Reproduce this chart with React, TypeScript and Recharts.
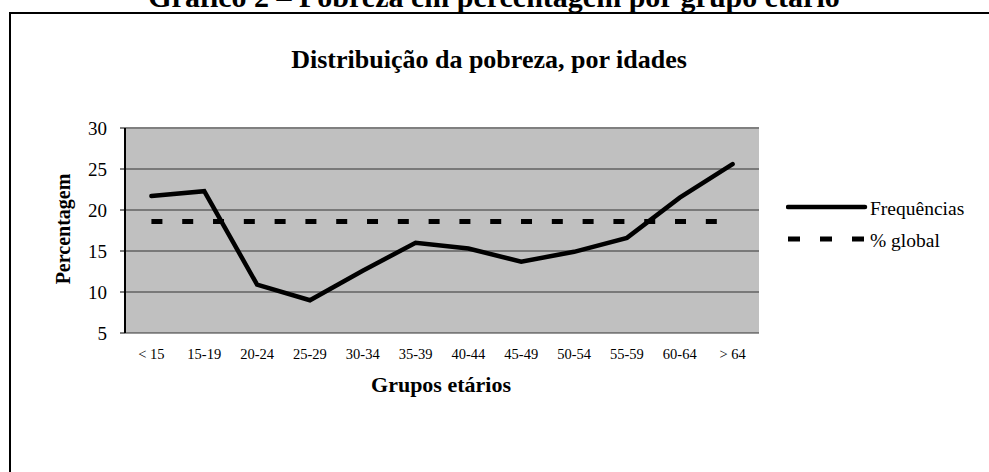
import React from 'react';
import { LineChart, Line, XAxis, YAxis, CartesianGrid, ReferenceLine, Legend } from 'recharts';

const groups = ['< 15', '15-19', '20-24', '25-29', '30-34', '35-39', '40-44', '45-49', '50-54', '55-59', '60-64', '> 64'];
const frequencias = [21.7, 22.3, 10.9, 9.0, 12.6, 16.0, 15.3, 13.7, 14.9, 16.6, 21.5, 25.6];
const globalPct = [18.6, 18.6, 18.6, 18.6, 18.6, 18.6, 18.6, 18.6, 18.6, 18.6, 18.6, 18.6];
const yTicks = [5, 10, 15, 20, 25, 30];
const edgeTicks = [0, 1, 2, 3, 4, 5, 6, 7, 8, 9, 10, 11, 12];
const seriesOrder = ['Frequências', '% global'];

const data = groups.map((g, i) => ({ grupo: g, freq: frequencias[i], glob: globalPct[i] }));

const FONT = "'Liberation Serif', 'Times New Roman', Times, serif";

const LegendContent = (props: any) => {
  const payload = [...(props.payload || [])].sort(
    (a: any, b: any) => seriesOrder.indexOf(a.value) - seriesOrder.indexOf(b.value)
  );
  return (
    <svg width={200} height={62} style={{ display: 'block' }}>
      {payload.map((entry: any, i: number) => {
        const y = 12 + i * 32;
        const dashed = !!(entry.payload && entry.payload.strokeDasharray);
        return (
          <g key={i}>
            <line
              x1={2}
              x2={79}
              y1={y}
              y2={y}
              stroke="#000"
              strokeWidth={dashed ? 5 : 4.5}
              strokeDasharray={dashed ? '12 20' : undefined}
              strokeLinecap={dashed ? 'butt' : 'round'}
            />
            <text x={84} y={y + 8} fontFamily={FONT} fontSize={19.5} fill="#000" style={{ fontFamily: FONT }}>
              {entry.value}
            </text>
          </g>
        );
      })}
    </svg>
  );
};

export default function App() {
  return (
    <div style={{ position: 'absolute', left: 0, top: 0, width: 989, height: 472, overflow: 'hidden', background: '#fff', fontFamily: FONT }}>
      <div
        style={{
          position: 'absolute',
          left: 9,
          top: 12,
          width: 1100,
          height: 600,
          border: '2px solid #000',
          boxSizing: 'border-box',
        }}
      />
      <div style={{ position: 'absolute', left: 0, top: 0 }}>
        <LineChart
          width={989}
          height={472}
          data={data}
          margin={{ top: 128, right: 230, bottom: 109, left: 65 }}
          style={{ fontFamily: FONT }}
        >
          <CartesianGrid xAxisId="edges" fill="#C0C0C0" stroke="#333" strokeWidth={1} vertical={false} />
          <XAxis
            xAxisId="edges"
            type="number"
            domain={[0, 12]}
            ticks={edgeTicks}
            allowDataOverflow
            tick={false}
            tickSize={5}
            height={0}
            tickLine={{ stroke: '#000', strokeWidth: 1 }}
            axisLine={{ stroke: '#333', strokeWidth: 2 }}
          />
          <XAxis
            xAxisId="cat"
            dataKey="grupo"
            type="category"
            scale="band"
            height={30}
            tickLine={false}
            axisLine={false}
            tickSize={0}
            tickMargin={16}
            interval={0}
            tick={{ fontFamily: FONT, fontSize: 14.5, fill: '#000', style: { fontFamily: FONT } }}
          />
          <YAxis
            domain={[5, 30]}
            ticks={yTicks}
            width={60}
            tickSize={5}
            tickMargin={13}
            interval={0}
            axisLine={{ stroke: '#000', strokeWidth: 2 }}
            tickLine={{ stroke: '#000', strokeWidth: 1 }}
            tick={{ fontFamily: FONT, fontSize: 19, fill: '#000', style: { fontFamily: FONT } }}
          />
          <ReferenceLine y={30} xAxisId="edges" stroke="#808080" strokeWidth={2} />
          <ReferenceLine x={12} xAxisId="edges" stroke="#808080" strokeWidth={2} />
          <Line
            xAxisId="cat"
            dataKey="freq"
            name="Frequências"
            stroke="#000"
            strokeWidth={4.5}
            strokeLinecap="round"
            dot={false}
            activeDot={false}
            isAnimationActive={false}
          />
          <Line
            xAxisId="cat"
            dataKey="glob"
            name="% global"
            stroke="#000"
            strokeWidth={5}
            strokeDasharray="11 19.8"
            dot={false}
            activeDot={false}
            isAnimationActive={false}
          />
          <Legend
            layout="vertical"
            align="center"
            verticalAlign="middle"
            content={<LegendContent />}
            wrapperStyle={{ left: 786, top: 195, width: 200 }}
          />
        </LineChart>
      </div>
      <svg width={989} height={472} style={{ position: 'absolute', left: 0, top: 0, pointerEvents: 'none' }}>
        <text x={494} y={7} textAnchor="middle" fontFamily={FONT} fontWeight="bold" fontSize={30} fill="#000">
          Gráfico 2 – Pobreza em percentagem por grupo etário
        </text>
        <text x={489} y={68} textAnchor="middle" fontFamily={FONT} fontWeight="bold" fontSize={26} fill="#000">
          Distribuição da pobreza, por idades
        </text>
        <text x={441} y={392} textAnchor="middle" fontFamily={FONT} fontWeight="bold" fontSize={22} fill="#000">
          Grupos etários
        </text>
        <text
          x={70}
          y={229}
          transform="rotate(-90 70 229)"
          textAnchor="middle"
          fontFamily={FONT}
          fontWeight="bold"
          fontSize={20}
          fill="#000"
        >
          Percentagem
        </text>
      </svg>
    </div>
  );
}
